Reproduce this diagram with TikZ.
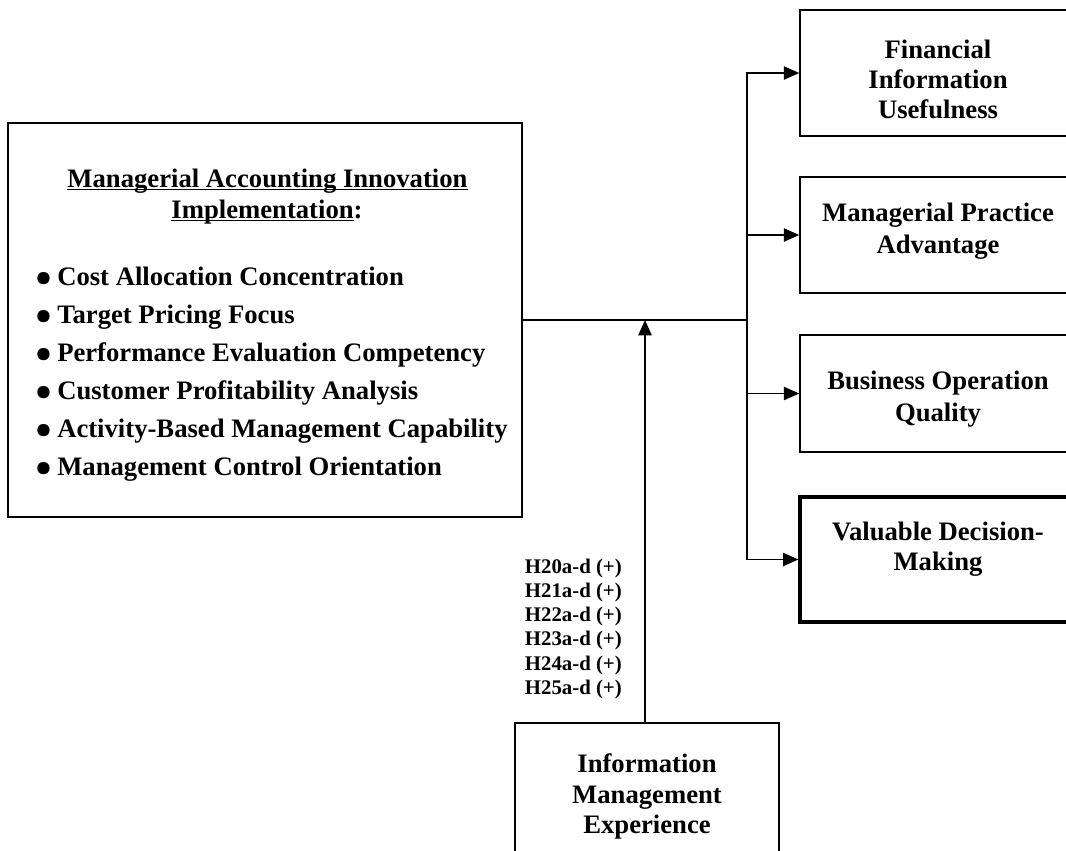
\documentclass[tikz,border=0pt]{standalone}
\usepackage{fontspec}
\setmainfont{Liberation Serif}
\usetikzlibrary{arrows.meta}
% underline that sits close to the baseline
\newcommand{\ulword}[1]{\setbox0\hbox{#1}\rlap{\rule[-2.4pt]{\wd0}{1.1pt}}\box0}
% round list marker
\newcommand{\itemdot}{\makebox[12.75pt][l]{\hspace{-3.5pt}\boldmath$\bullet$}}
\begin{document}
\begin{tikzpicture}[x=0.75pt,y=-0.75pt,
  box/.style={draw,line width=1.2pt,rectangle,inner sep=0pt},
  txt/.style={font=\fontsize{20}{24}\selectfont\bfseries,anchor=base,inner sep=0pt},
  hyp/.style={font=\fontsize{15.6}{18}\selectfont\bfseries,anchor=base east,inner sep=0pt},
  link/.style={line width=1.1pt},
  arr/.style={line width=1.1pt,-{Triangle[length=11.5pt,width=10pt]}}]
\useasboundingbox (0,0) rectangle (1066,850);
\clip (0,0) rectangle (1066,850);

% boxes
\node[box,minimum width=385.5pt,minimum height=295.5pt] (mac) at (265,320) {};
\node[box,minimum width=207pt,minimum height=94.5pt] (fin) at (938,73) {};
\node[box,minimum width=207pt,minimum height=87pt] (mpa) at (938,235) {};
\node[box,minimum width=207pt,minimum height=87.75pt] (boq) at (938,393.5) {};
\node[box,line width=2.5pt,minimum width=207pt,minimum height=93.75pt] (vdm) at (938,559.5) {};
\node[box,minimum width=198pt,minimum height=110.25pt] (ime) at (647,796.5) {};

% innovation box contents
\node[txt] (head1) at (267.5,187) {\ulword{Managerial Accounting Innovation}};
\node[txt] (head2) at (267,218) {\ulword{Implementation}:};
\foreach \t [count=\i] in {Cost Allocation Concentration,Target Pricing Focus,
    Performance Evaluation Competency,Customer Profitability Analysis,
    Activity-Based Management Capability,Management Control Orientation}
  \node[txt,anchor=base west] (item\i) at (40,{285+38*(\i-1)})
    {\itemdot\t};

% outcome box texts
\node[txt] (fin1) at (938,58) {Financial};
\node[txt] (fin2) at (938,88) {Information};
\node[txt] (fin3) at (938,118) {Usefulness};
\node[txt] (mpa1) at (938,221) {Managerial Practice};
\node[txt] (mpa2) at (938,253) {Advantage};
\node[txt] (boq1) at (938,389) {Business Operation};
\node[txt] (boq2) at (938,421) {Quality};
\node[txt] (vdm1) at (938,540) {Valuable Decision-};
\node[txt] (vdm2) at (938,570) {Making};

% moderator box text
\node[txt] (ime1) at (647,772) {Information};
\node[txt] (ime2) at (647,803) {Management};
\node[txt] (ime3) at (647,833) {Experience};

% hypotheses
\foreach \n [count=\i] in {20,21,22,23,24,25}
  \node[hyp] (h\n) at (622,{573+24.3*(\i-1)}) {H\n a-d (+)};

% connectors
\coordinate (j) at (747,320);
\coordinate (m) at (645,320);
\draw[link] (mac.east) -- (j);
\draw[arr] (j) |- (fin.west);
\draw[arr] (j) |- (mpa.west);
\draw[arr] (j) |- (boq.west);
\draw[arr] (j) |- (vdm.west);
\draw[arr] (m |- ime.north) -- (m);
\end{tikzpicture}
\end{document}
